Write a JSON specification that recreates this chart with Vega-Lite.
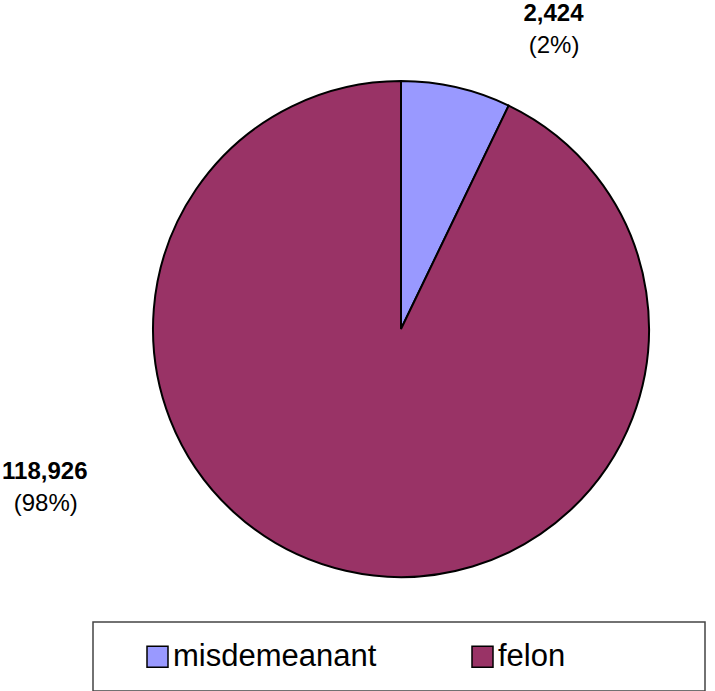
{
  "$schema": "https://vega.github.io/schema/vega-lite/v6.json",
  "width": 628,
  "height": 658,
  "autosize": {"type": "none"},
  "padding": {"left": 87, "top": 0, "right": 0, "bottom": 33},
  "background": "white",
  "config": {
    "view": {"stroke": null},
    "font": "Liberation Sans",
    "legend": {
      "gridAlign": "each",
      "columns": 2,
      "symbolType": "square",
      "symbolSize": 441,
      "symbolStrokeColor": "black",
      "symbolStrokeWidth": 1.5,
      "symbolOffset": 30,
      "labelFontSize": 31,
      "labelFont": "Liberation Sans",
      "labelColor": "black",
      "labelOffset": 0,
      "labelLimit": 0,
      "columnPadding": 60,
      "padding": 19,
      "strokeColor": "#444444",
      "strokeWidth": 1.5
    }
  },
  "data": {
    "values": [
      {"category": "misdemeanant", "count": 2424, "countLabel": "2,424", "pctLabel": "(2%)"},
      {"category": "felon", "count": 118926, "countLabel": "118,926", "pctLabel": "(98%)"}
    ]
  },
  "encoding": {
    "theta": {"field": "count", "type": "quantitative", "stack": true, "scale": {"type": "pow", "exponent": 0.6742}},
    "order": {"field": "count", "sort": "ascending"}
  },
  "layer": [
    {
      "mark": {"type": "arc", "outerRadius": 248, "stroke": "black", "strokeWidth": 2},
      "encoding": {
        "color": {
          "field": "category",
          "type": "nominal",
          "scale": {"domain": ["misdemeanant", "felon"], "range": ["#9999FF", "#993366"]},
          "legend": {
            "title": null,
            "orient": "none",
            "legendX": 6,
            "legendY": 622,
            "direction": "horizontal",
            "columns": 2,
            "labelExpr": "datum.label == 'felon' ? 'felon\u00a0\u00a0\u00a0\u00a0\u00a0\u00a0\u00a0\u00a0\u00a0\u00a0\u00a0\u00a0\u00a0\u00a0\u200b' : datum.label"
          }
        }
      }
    },
    {
      "mark": {"type": "text", "radius": 350, "thetaOffset": 0.1695, "fontSize": 24, "fontWeight": "bold", "color": "black"},
      "encoding": {"text": {"condition": {"test": "datum.category === 'misdemeanant'", "field": "countLabel"}, "value": ""}}
    },
    {
      "mark": {"type": "text", "radius": 322, "thetaOffset": 0.214, "fontSize": 24, "color": "black"},
      "encoding": {"text": {"condition": {"test": "datum.category === 'misdemeanant'", "field": "pctLabel"}, "value": ""}}
    },
    {
      "mark": {"type": "text", "radius": 384, "thetaOffset": 0.339, "fontSize": 24, "fontWeight": "bold", "color": "black"},
      "encoding": {"text": {"condition": {"test": "datum.category === 'felon'", "field": "countLabel"}, "value": ""}}
    },
    {
      "mark": {"type": "text", "radius": 396, "thetaOffset": 0.2645, "fontSize": 24, "color": "black"},
      "encoding": {"text": {"condition": {"test": "datum.category === 'felon'", "field": "pctLabel"}, "value": ""}}
    }
  ]
}
